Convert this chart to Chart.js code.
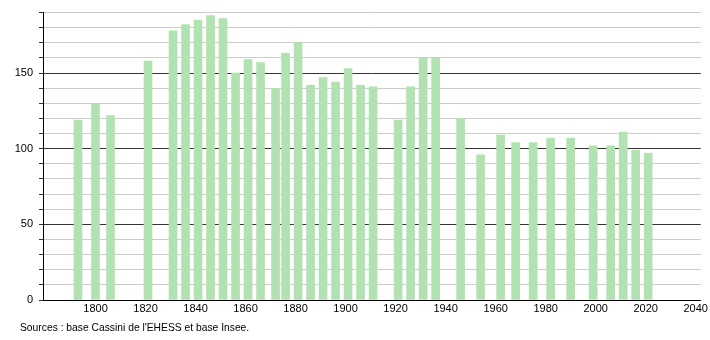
<!DOCTYPE html>
<html>
<head>
<meta charset="utf-8">
<script src="https://cdn.jsdelivr.net/npm/chart.js@4/dist/chart.umd.min.js"></script>
<style>
  body { margin: 0; background: #fff; }
  #wrap { position: relative; width: 710px; height: 340px; }
  #source {
    position: absolute; left: 20px; top: 322px;
    font: 10.3px "Liberation Sans", Arial, sans-serif; color: #000;
  }
</style>
</head>
<body>
<div id="wrap">
  <canvas id="popChart" width="710" height="340"></canvas>
  <div id="source"></div>
</div>
<script>
// census years and population
const years = [1793, 1800, 1806, 1821, 1831, 1836, 1841, 1846, 1851, 1856, 1861, 1866,
  1872, 1876, 1881, 1886, 1891, 1896, 1901, 1906, 1911, 1921, 1926, 1931, 1936, 1946,
  1954, 1962, 1968, 1975, 1982, 1990, 1999, 2006, 2011, 2016, 2021];
const population = [119, 130, 122, 158, 178, 182, 185, 188, 186, 150, 159, 157,
  140, 163, 170, 142, 147, 144, 153, 142, 141, 119, 141, 160, 160, 120,
  96, 109, 104, 104, 107, 107, 102, 102, 111, 99, 97];
const sourceText = "Sources : base Cassini de l'EHESS et base Insee.";

document.getElementById("source").textContent = sourceText;

const font = { family: "'Liberation Sans', Arial, sans-serif", size: 11 };

new Chart(document.getElementById("popChart").getContext("2d"), {
  type: "bar",
  data: {
    datasets: [{
      data: years.map((y, i) => ({ x: y, y: population[i] })),
      backgroundColor: "rgb(178, 226, 178)",
      borderWidth: 0,
      barThickness: 8,
    }],
  },
  options: {
    responsive: false,
    animation: false,
    layout: { padding: { top: 10, right: 9, bottom: 20, left: 0 } },
    plugins: { legend: { display: false }, tooltip: { enabled: false } },
    scales: {
      x: {
        type: "linear",
        offset: false,
        min: 1779,
        max: 2042,
        grid: { display: false, drawTicks: false },
        border: { display: true, color: "#000", width: 1 },
        ticks: {
          stepSize: 20,
          includeBounds: false,
          maxRotation: 0,
          autoSkip: false,
          padding: 2,
          color: "#000",
          font: font,
          callback: (v) => (v >= 1800 ? String(v) : ""),
        },
        afterFit: (s) => { s.height = 20; },
      },
      y: {
        min: 0,
        max: 190,
        grid: {
          color: (c) => (c.tick && c.tick.value % 50 === 0 ? "#333" : "#ccc"),
          tickColor: "#333",
          tickLength: 4,
        },
        border: { display: true, color: "#000", width: 1 },
        ticks: {
          stepSize: 10,
          autoSkip: false,
          padding: 6,
          color: "#000",
          font: font,
          callback: (v) => (v % 50 === 0 ? String(v) : ""),
        },
        afterFit: (s) => { s.width = 43; },
      },
    },
  },
});
</script>
</body>
</html>
